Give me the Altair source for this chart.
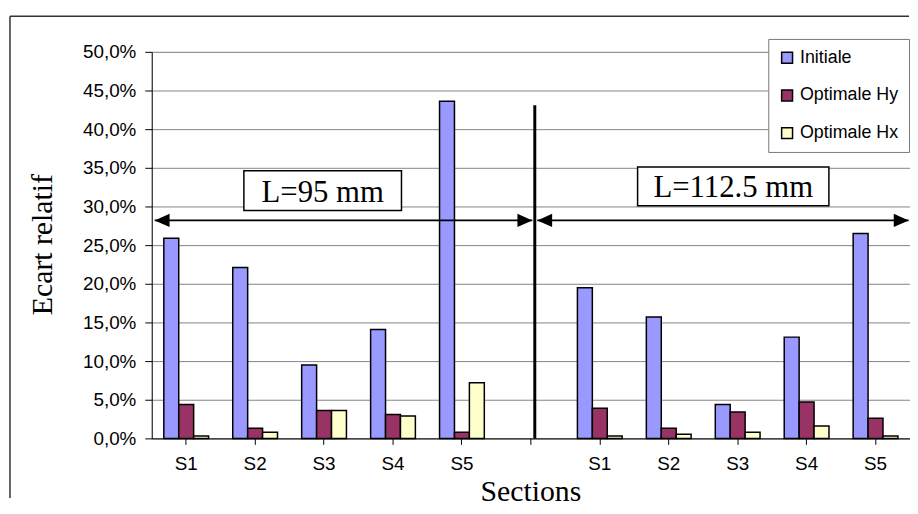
import altair as alt
import pandas as pd

# ---------------- data ----------------
sections = ["S1", "S2", "S3", "S4", "S5"]
series = ["Initiale", "Optimale Hy", "Optimale Hx"]
series_colors = ["#9999FF", "#993366", "#FFFFCC"]

initiale_95 = [0.259, 0.221, 0.095, 0.141, 0.436]
hy_95 = [0.044, 0.013, 0.036, 0.031, 0.008]
hx_95 = [0.003, 0.008, 0.036, 0.029, 0.072]

initiale_112 = [0.195, 0.157, 0.044, 0.131, 0.265]
hy_112 = [0.039, 0.013, 0.034, 0.047, 0.026]
hx_112 = [0.003, 0.0055, 0.008, 0.016, 0.003]

y_ticks = [0.0, 0.05, 0.10, 0.15, 0.20, 0.25, 0.30, 0.35, 0.40, 0.45, 0.50]

# category keys: two groups of sections with an empty slot between them
cat_keys = [f"A-{s}" for s in sections] + ["gap"] + [f"B-{s}" for s in sections]

# annotations, x in category units (0..11), y in the value units
sep_x = [5.557]
sep_top = [0.431]
arrow_x = [0.043, 5.593]
arrow_x2 = [5.521, 10.98]
arrow_y = 0.282
head_x = [0.043, 5.521, 5.593, 10.98]
head_dir = ["left", "right", "left", "right"]
box_text = ["L=95 mm", "L=112.5 mm"]
box_x = [2.48, 8.436]
box_y = [0.3205, 0.326]

# ---------------- tables ----------------
rows = []
for grp, vals in (("A", (initiale_95, hy_95, hx_95)), ("B", (initiale_112, hy_112, hx_112))):
    for si, name in enumerate(series):
        for k, s in enumerate(sections):
            rows.append({"cat": f"{grp}-{s}", "series": name, "value": vals[si][k]})
bars_df = pd.DataFrame(rows)

sep_df = pd.DataFrame({"x": sep_x, "y": [0.0], "y2": sep_top})
arrow_df = pd.DataFrame({"x": arrow_x, "x2": arrow_x2, "y": [arrow_y] * 2})
head_df = pd.DataFrame({"x": head_x, "dir": head_dir, "y": [arrow_y] * 4})
box_df = pd.DataFrame({"x": box_x, "y": box_y, "text": box_text})

PLOT_W = 765
PLOT_H = 390

ann_x = alt.Scale(domain=[0, 11], nice=False, zero=False)
y_scale = alt.Scale(domain=[0, 0.5], nice=False)

y_axis = alt.Axis(
    values=y_ticks, format=".1%",
    grid=True, gridColor="#858585",
    tickSize=7, tickColor="black", domainColor="black",
    labelFont="Liberation Sans", labelFontSize=19, labelColor="black", labelPadding=9,
    title="Ecart relatif", titleFont="Liberation Serif", titleFontSize=30,
    titleFontWeight="normal", titleColor="black",
    titleX=-101, titleY=194, titleBaseline="alphabetic", titleAlign="center",
)

x_axis = alt.Axis(
    labelExpr="indexof(datum.value, '-') >= 0 ? split(datum.value, '-')[1] : ''",
    labelAngle=0, tickSize=6, tickColor="black",
    domainColor="black", grid=False,
    labelFont="Liberation Sans", labelFontSize=19, labelColor="black", labelPadding=10,
    title="Sections", titleFont="Liberation Serif", titleFontSize=30,
    titleFontWeight="normal", titleColor="black",
    titleX=382, titleY=63, titleBaseline="alphabetic", titleAlign="center",
)

Y = alt.Y("y:Q", scale=y_scale, axis=y_axis)

bars = alt.Chart(bars_df).mark_bar(stroke="black", strokeWidth=1.5).encode(
    x=alt.X("cat:N", scale=alt.Scale(domain=cat_keys, paddingInner=0, paddingOuter=0),
            axis=x_axis),
    xOffset=alt.XOffset("series:N", scale=alt.Scale(domain=series, paddingInner=0,
                                                    paddingOuter=0.81)),
    y=alt.Y("value:Q", scale=y_scale, axis=y_axis),
    color=alt.Color("series:N", scale=alt.Scale(domain=series, range=series_colors),
                    legend=alt.Legend(
                        orient="none", legendX=622, legendY=-13, title=None,
                        labelFont="Liberation Sans", labelFontSize=18, labelColor="black",
                        symbolType="square", symbolSize=121, symbolStrokeColor="black",
                        symbolStrokeWidth=1.5,
                        fillColor="white", strokeColor="#777", padding=10,
                        rowPadding=20)),
)

sep = alt.Chart(sep_df).mark_rule(color="black", strokeWidth=3).encode(
    x=alt.X("x:Q", scale=ann_x, axis=None),
    y=Y,
    y2="y2:Q",
)

arrows = alt.Chart(arrow_df).mark_rule(color="black", strokeWidth=2).encode(
    x=alt.X("x:Q", scale=ann_x, axis=None),
    x2="x2:Q",
    y=Y,
)

heads = alt.Chart(head_df).mark_point(filled=True, size=900, opacity=1, color="black").encode(
    x=alt.X("x:Q", scale=ann_x, axis=None),
    y=Y,
    shape=alt.Shape("dir:N", scale=alt.Scale(
        domain=["left", "right"],
        range=["M0,0L1,-0.45L1,0.45Z", "M0,0L-1,-0.45L-1,0.45Z"]), legend=None),
)

boxes = alt.Chart(box_df).mark_point(filled=True, fill="white", stroke="black",
                                     strokeWidth=1.5, size=40000, opacity=1).encode(
    x=alt.X("x:Q", scale=ann_x, axis=None),
    y=Y,
    shape=alt.Shape("text:N", scale=alt.Scale(
        domain=box_text,
        range=["M-0.795,-0.2H0.795V0.2H-0.795Z", "M-0.965,-0.195H0.965V0.195H-0.965Z"]),
        legend=None),
)

box_labels = alt.Chart(box_df).mark_text(font="Liberation Serif", fontSize=31,
                                         color="black", baseline="middle",
                                         align="center", dy=2).encode(
    x=alt.X("x:Q", scale=ann_x, axis=None),
    y=Y,
    text="text:N",
)

frame_df = pd.DataFrame({"k": [0]})
frame_left = alt.Chart(frame_df).mark_rule(color="#333", strokeWidth=1.5).encode(
    x=alt.value(-143), y=alt.value(-36), y2=alt.value(450))
frame_top = alt.Chart(frame_df).mark_rule(color="#333", strokeWidth=1.5).encode(
    x=alt.value(-143), x2=alt.value(764), y=alt.value(-36))

chart = alt.layer(
    bars, sep, arrows, heads, boxes, box_labels, frame_left, frame_top
).resolve_scale(
    x="independent", shape="independent"
).properties(
    width=PLOT_W, height=PLOT_H,
    padding={"left": 1, "top": 5, "right": 0, "bottom": 0},
    background="white",
).configure_view(
    stroke=None
).configure(
    locale=alt.Locale(number=alt.NumberLocale(decimal=",", thousands=" ",
                                              grouping=[3], currency=["", " €"]))
)

chart.save("out.html", embed_options={"renderer": "svg", "actions": False})
